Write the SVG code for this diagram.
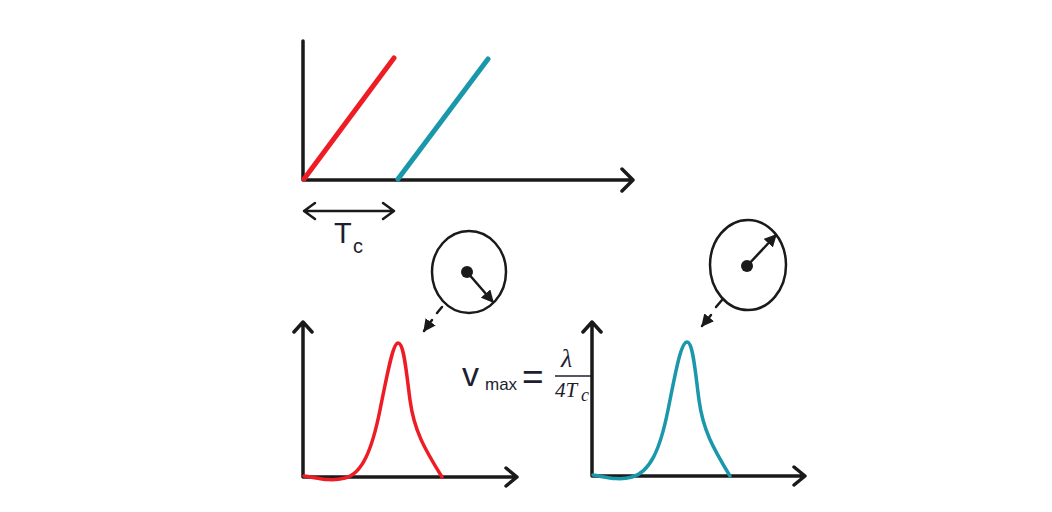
<svg xmlns="http://www.w3.org/2000/svg" width="1052" height="512" viewBox="0 0 1052 512">
<style>
.ax{fill:none;stroke:#1a1a1a;stroke-width:3.5;stroke-linecap:round;stroke-linejoin:round}
.thin{fill:none;stroke:#1a1a1a;stroke-width:2.5;stroke-linecap:round;stroke-linejoin:round}
.red{fill:none;stroke:#ee1c24;stroke-linecap:round}
.teal{fill:none;stroke:#1a97ab;stroke-linecap:round}
.lbl{font-family:"Liberation Sans",Arial,sans-serif;fill:#1e1e30}
.math{font-family:"Liberation Serif","DejaVu Serif",serif;font-style:italic;fill:#1e1e30}
</style>
<defs>
<marker id="fa" viewBox="0 0 10 10" refX="9" refY="5" markerWidth="5" markerHeight="5" orient="auto" markerUnits="strokeWidth"><path d="M0,0 L10,5 L0,10 z" fill="#1a1a1a"/></marker>
<clipPath id="cut"><rect x="440" y="330" width="151" height="90"/></clipPath>
</defs>
<rect width="1052" height="512" fill="#fff"/>
<g id="top-chart">
<path class="ax" d="M303,41 V180 H633 M622,169 L633,180 L622,191"/>
<path class="red" stroke-width="5" d="M304,179 L394,58"/>
<path class="teal" stroke-width="5" d="M398,179 L488,59"/>
</g>
<g id="tc-span">
<path class="thin" d="M304,211 H394 M315,203 L304,211 L315,219 M383,203 L394,211 L383,219"/>
<text class="lbl" x="334" y="243" font-size="29">T</text>
<text class="lbl" x="353" y="253" font-size="20">c</text>
</g>
<g id="ellipse-left">
<ellipse cx="469" cy="272" rx="37" ry="41" class="thin"/>
<circle cx="467" cy="272" r="6" fill="#1a1a1a"/>
<line class="thin" x1="467" y1="272" x2="493" y2="302" marker-end="url(#fa)"/>
<line class="thin" x1="442" y1="307" x2="437" y2="313"/>
<line class="thin" x1="432" y1="320" x2="424" y2="331" marker-end="url(#fa)"/>
</g>
<g id="ellipse-right">
<ellipse cx="748" cy="265" rx="38" ry="45" class="thin"/>
<circle cx="747" cy="266" r="6" fill="#1a1a1a"/>
<line class="thin" x1="747" y1="266" x2="776" y2="235" marker-end="url(#fa)"/>
<line class="thin" x1="722" y1="300" x2="716" y2="307"/>
<line class="thin" x1="711" y1="315" x2="702" y2="326" marker-end="url(#fa)"/>
</g>
<g id="bottom-left-chart">
<path class="ax" d="M303,322 V477 H517 M294,332 L303,322 L312,332 M506,468 L517,477 L506,486"/>
<path class="red" stroke-width="3.5" d="M304,476 C318,478 330,482 345,478 C362,474 372,450 380,410 C388,370 393,343 398,343 C404,343 406,370 410,400 C414,430 424,448 442,477"/>
</g>
<g id="formula" clip-path="url(#cut)">
<text class="lbl" x="462" y="386" font-size="34">v</text>
<text class="lbl" x="485" y="390" font-size="17">max</text>
<text class="lbl" x="522" y="389" font-size="37">=</text>
<text class="math" x="561" y="367" font-size="26">λ</text>
<line x1="555" y1="376" x2="595" y2="376" stroke="#1e1e30" stroke-width="1.5"/>
<text class="math" x="555" y="397" font-size="21">4T</text>
<text class="math" x="581" y="401" font-size="18">c</text>
</g>
<g id="bottom-right-chart">
<path class="ax" d="M592,322 V476 H805 M583,332 L592,322 L601,332 M794,467 L805,476 L794,485"/>
<path class="teal" stroke-width="3.5" d="M593,475 C606,477 618,481 632,477 C650,472 660,450 668,410 C676,370 681,342 687,342 C693,342 695,370 699,400 C703,430 713,448 730,476"/>
</g>
</svg>
